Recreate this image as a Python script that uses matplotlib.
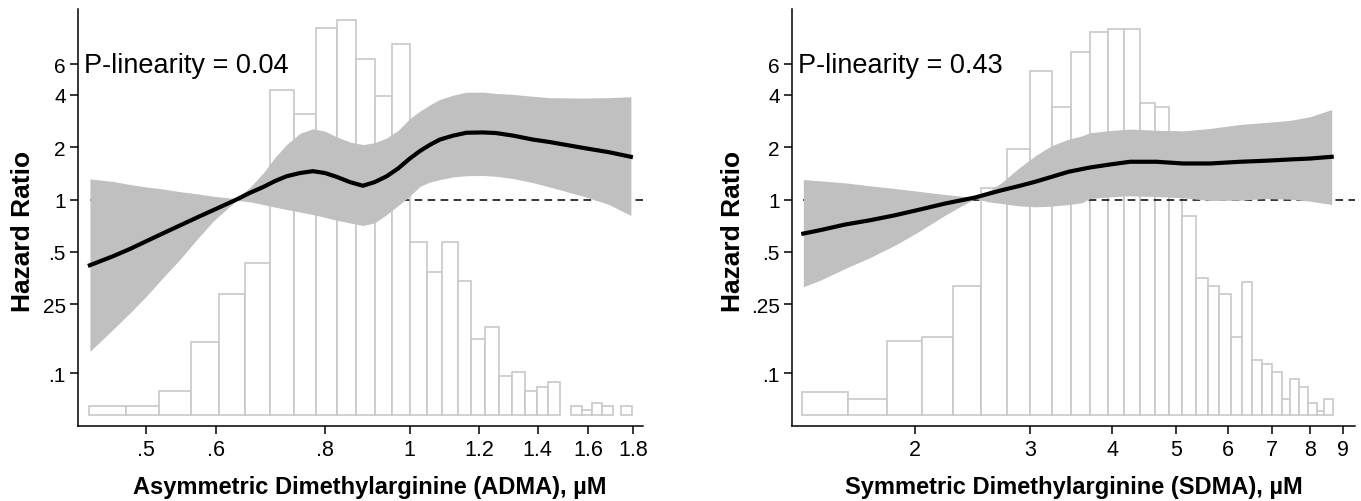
import matplotlib
matplotlib.use("Agg")
import matplotlib.pyplot as plt
import numpy as np
from matplotlib.ticker import FixedLocator, NullLocator

plt.rcParams['font.family'] = ['Liberation Sans', 'DejaVu Sans']

# ---- ADMA panel ----
adma_edges = [0.430, 0.474, 0.517, 0.562, 0.605, 0.649, 0.693, 0.738, 0.781, 0.825,
              0.869, 0.912, 0.955, 1.000, 1.045, 1.089, 1.134, 1.176, 1.218, 1.265,
              1.309, 1.353, 1.396, 1.439, 1.484, 1.528, 1.573, 1.616, 1.659, 1.705,
              1.745, 1.792]
adma_density = [0.09, 0.09, 0.24, 0.73, 1.21, 1.52, 3.25, 3.01, 3.87, 3.95,
                3.56, 3.19, 3.71, 1.73, 1.43, 1.73, 1.34, 0.76, 0.88, 0.39,
                0.43, 0.24, 0.28, 0.33, 0.0, 0.09, 0.05, 0.12, 0.09, 0.0, 0.09]

adma_x = [0.431, 0.458, 0.479, 0.500, 0.522, 0.546, 0.570, 0.596, 0.634, 0.656,
          0.680, 0.701, 0.723, 0.749, 0.775, 0.800, 0.825, 0.854, 0.884, 0.912,
          0.941, 0.970, 1.000, 1.027, 1.054, 1.082, 1.121, 1.161, 1.213, 1.255,
          1.312, 1.383, 1.445, 1.578, 1.689, 1.789]
adma_hr = [0.419, 0.472, 0.520, 0.576, 0.638, 0.709, 0.784, 0.868, 1.00, 1.09,
           1.18, 1.275, 1.36, 1.42, 1.455, 1.42, 1.35, 1.26, 1.20, 1.26,
           1.36, 1.51, 1.72, 1.90, 2.06, 2.21, 2.33, 2.42, 2.43, 2.41,
           2.33, 2.21, 2.14, 1.98, 1.87, 1.76]
adma_hi = [1.315, 1.27, 1.22, 1.18, 1.15, 1.11, 1.08, 1.045, 1.01, 1.17,
           1.42, 1.74, 2.07, 2.40, 2.55, 2.47, 2.29, 2.14, 2.07, 2.12,
           2.26, 2.50, 2.92, 3.22, 3.50, 3.76, 3.98, 4.14, 4.14, 4.07,
           4.02, 3.92, 3.85, 3.83, 3.85, 3.90]
adma_lo = [0.134, 0.179, 0.223, 0.278, 0.354, 0.452, 0.583, 0.750, 0.99, 0.970,
           0.936, 0.905, 0.876, 0.848, 0.820, 0.790, 0.760, 0.734, 0.709, 0.734,
           0.820, 0.924, 1.045, 1.19, 1.26, 1.30, 1.35, 1.37, 1.375, 1.36,
           1.32, 1.25, 1.18, 1.045, 0.936, 0.81]

adma_xticks = [0.5, 0.6, 0.8, 1.0, 1.2, 1.4, 1.6, 1.8]
adma_xlabels = [".5", ".6", ".8", "1", "1.2", "1.4", "1.6", "1.8"]
adma_ylabels = [".1", "25", ".5", "1", "2", "4", "6"]

# ---- SDMA panel ----
sdma_edges = [1.346, 1.582, 1.815, 2.052, 2.283, 2.519, 2.760, 2.996, 3.232, 3.459,
              3.698, 3.936, 4.167, 4.407, 4.646, 4.880, 5.114, 5.361, 5.591, 5.824,
              6.062, 6.300, 6.541, 6.774, 7.015, 7.251, 7.465, 7.713, 7.961, 8.200,
              8.422, 8.675]
sdma_density = [0.23, 0.16, 0.74, 0.78, 1.29, 2.27, 2.66, 3.44, 3.08, 3.63,
                3.83, 3.86, 3.86, 3.12, 3.08, 2.57, 1.99, 1.37, 1.29, 1.21,
                0.78, 1.33, 0.55, 0.51, 0.43, 0.16, 0.36, 0.28, 0.12, 0.04, 0.16]

sdma_x = [1.351, 1.432, 1.564, 1.708, 1.864, 2.035, 2.222, 2.356, 2.470, 2.587,
          2.712, 2.875, 3.048, 3.232, 3.427, 3.592, 3.698, 3.968, 4.256, 4.673,
          5.131, 5.636, 6.262, 6.837, 7.465, 8.008, 8.642]
sdma_hr = [0.637, 0.666, 0.718, 0.760, 0.812, 0.876, 0.948, 0.991, 1.027, 1.078,
           1.131, 1.193, 1.264, 1.35, 1.443, 1.495, 1.528, 1.59, 1.648, 1.648,
           1.611, 1.611, 1.648, 1.67, 1.699, 1.72, 1.76]
sdma_hi = [1.303, 1.281, 1.247, 1.199, 1.157, 1.112, 1.068, 1.045, 1.023, 1.116,
           1.252, 1.508, 1.78, 2.04, 2.22, 2.32, 2.42, 2.49, 2.54, 2.50,
           2.48, 2.56, 2.70, 2.77, 2.85, 2.99, 3.29]
sdma_lo = [0.315, 0.343, 0.401, 0.464, 0.546, 0.660, 0.812, 0.920, 1.013, 0.970,
           0.948, 0.920, 0.908, 0.916, 0.936, 0.957, 1.013, 1.036, 1.05, 1.04,
           1.023, 0.987, 0.991, 1.013, 1.004, 0.978, 0.936]

sdma_xticks = [2, 3, 4, 5, 6, 7, 8, 9]
sdma_xlabels = ["2", "3", "4", "5", "6", "7", "8", "9"]
sdma_ylabels = [".1", ".25", ".5", "1", "2", "4", "6"]

yticks = [0.1, 0.25, 0.5, 1, 2, 4, 6]

panels = [
    dict(pos=[0.0575, 0.1494, 0.4151, 0.8307], xlim=(0.418, 1.848),
         edges=adma_edges, dens=adma_density, x=adma_x, hr=adma_hr,
         hi=adma_hi, lo=adma_lo, xticks=adma_xticks, xlabels=adma_xlabels,
         ylabels=adma_ylabels, p="P-linearity = 0.04",
         xlabel="Asymmetric Dimethylarginine (ADMA), µM", xl_x=0.516, yl_x=-0.098),
    dict(pos=[0.5822, 0.1494, 0.4134, 0.8307], xlim=(1.30, 9.38),
         edges=sdma_edges, dens=sdma_density, x=sdma_x, hr=sdma_hr,
         hi=sdma_hi, lo=sdma_lo, xticks=sdma_xticks, xlabels=sdma_xlabels,
         ylabels=sdma_ylabels, p="P-linearity = 0.43",
         xlabel="Symmetric Dimethylarginine (SDMA), µM", xl_x=0.5, yl_x=-0.105),
]

fig = plt.figure(figsize=(13.61, 5.02), dpi=100)

for pn in panels:
    # histogram in the background
    axh = fig.add_axes(pn["pos"])
    edges = np.array(pn["edges"])
    dens = np.array(pn["dens"])
    keep = dens > 0
    axh.bar(edges[:-1][keep], dens[keep], width=np.diff(edges)[keep], align="edge",
            color="white", edgecolor="#c8c8c8", linewidth=1.2)
    axh.set_xscale("log")
    axh.set_xlim(pn["xlim"])
    axh.set_ylim(-0.107, 4.06)
    axh.axis("off")

    # hazard ratio curve on top
    ax = fig.add_axes(pn["pos"])
    ax.set_facecolor("none")
    ax.set_xscale("log")
    ax.set_yscale("log")
    ax.set_xlim(pn["xlim"])
    ax.set_ylim(0.0499, 12.45)

    ax.hlines(1, pn["x"][0], pn["xlim"][1], colors="black", linestyles=(0, (5, 3.5)),
              linewidth=1.1, zorder=1)
    ax.fill_between(pn["x"], pn["lo"], pn["hi"], color="#c0c0c0", linewidth=0, zorder=2)
    ax.plot(pn["x"], pn["hr"], color="black", linewidth=3, zorder=3)

    ax.xaxis.set_major_locator(FixedLocator(pn["xticks"]))
    ax.set_xticklabels(pn["xlabels"])
    ax.xaxis.set_minor_locator(NullLocator())
    ax.yaxis.set_major_locator(FixedLocator(yticks))
    ax.set_yticklabels(pn["ylabels"])
    ax.yaxis.set_minor_locator(NullLocator())

    for s in ["top", "right"]:
        ax.spines[s].set_visible(False)
    for s in ["left", "bottom"]:
        ax.spines[s].set_linewidth(1.1)
    ax.tick_params(axis="both", direction="out", length=6, width=1.1, pad=3)
    ax.tick_params(axis="x", labelsize=15.5)
    ax.tick_params(axis="y", labelsize=15)

    ax.text(0.01, 0.848, pn["p"], transform=ax.transAxes, fontsize=19.5,
            ha="left", va="baseline")

    ax.set_xlabel(pn["xlabel"], fontsize=17, fontweight="bold")
    ax.xaxis.set_label_coords(pn["xl_x"], -0.144)
    ax.xaxis.label.set_va("center")
    ax.set_ylabel("Hazard Ratio", fontsize=19, fontweight="bold")
    ax.yaxis.set_label_coords(pn["yl_x"], 0.47)
    ax.yaxis.label.set_va("center")

fig.savefig("out.png", dpi=100)
